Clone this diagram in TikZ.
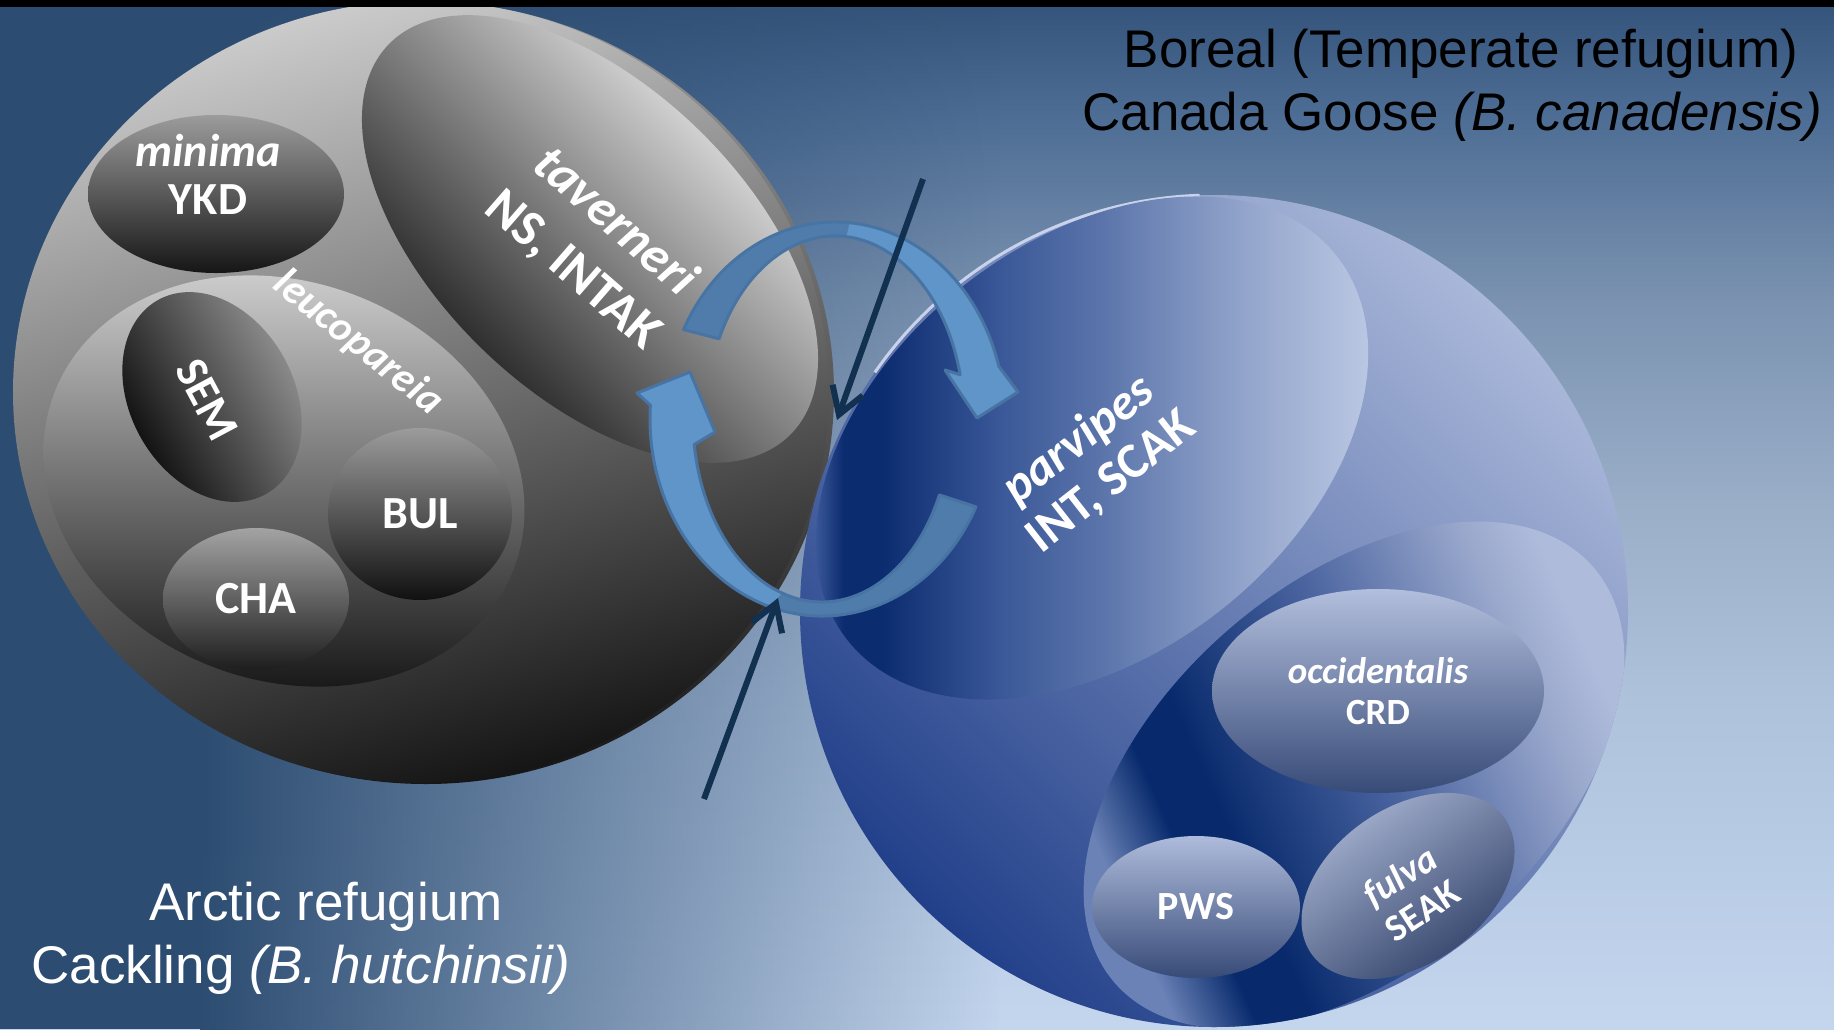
\documentclass[tikz,border=0pt]{standalone}
\usepackage{fontspec}
\setmainfont{Liberation Sans}
\newfontfamily\calfont{Carlito}
\usetikzlibrary{shapes.geometric,arrows.meta,fadings}

\definecolor{sky0}{HTML}{33537A}
\definecolor{sky1}{HTML}{4A6A92}
\definecolor{sky2}{HTML}{7A92B0}
\definecolor{sky3}{HTML}{9AAEC8}
\definecolor{sky4}{HTML}{AEC2DC}
\definecolor{sky5}{HTML}{C4D6EE}
\definecolor{bgdark}{HTML}{2C4C71}
\definecolor{greyhi}{HTML}{CBCBCB}
\definecolor{greymid}{HTML}{8C8C8C}
\definecolor{greylo}{HTML}{151515}
\definecolor{greyrim}{HTML}{9A9A9A}
\definecolor{blhi}{HTML}{A9B7D9}
\definecolor{blmid}{HTML}{5670AA}
\definecolor{bllo}{HTML}{22408A}
\definecolor{pvedge}{HTML}{3A5898}
\definecolor{pvnavy}{HTML}{0C2C70}
\definecolor{pvmid}{HTML}{5A74AA}
\definecolor{pvpale}{HTML}{94A6CC}
\definecolor{pvlight}{HTML}{BAC7E3}
\definecolor{wlight}{HTML}{AEBBDB}
\definecolor{wpale}{HTML}{9AA8CC}
\definecolor{wmid}{HTML}{4A64A0}
\definecolor{wnavy}{HTML}{082A6C}
\definecolor{wedge}{HTML}{6A82B6}
\definecolor{rimblue}{HTML}{C8D2EA}
\definecolor{cycdark}{HTML}{4F7CAA}
\definecolor{cyclight}{HTML}{5F95C8}
\definecolor{cycedge}{HTML}{4874A4}
\definecolor{migrline}{HTML}{12304F}

\pgfdeclareverticalshading{skyshade}{100bp}{color(0bp)=(sky5); color(25bp)=(sky5); color(41bp)=(sky4); color(50.5bp)=(sky3); color(60.5bp)=(sky2); color(70bp)=(sky1); color(75bp)=(sky0); color(100bp)=(sky0)}
\pgfdeclareverticalshading{parvshade}{100bp}{color(0bp)=(pvedge); color(25bp)=(pvedge); color(27.5bp)=(pvnavy); color(31bp)=(pvnavy); color(41.7bp)=(pvedge); color(50.7bp)=(pvmid); color(64.3bp)=(pvpale); color(75bp)=(pvlight); color(100bp)=(pvlight)}
\pgfdeclareverticalshading{pacshade}{100bp}{color(0bp)=(wedge); color(25bp)=(wedge); color(32bp)=(wnavy); color(37bp)=(wnavy); color(53bp)=(wmid); color(69bp)=(wpale); color(75bp)=(wlight); color(100bp)=(wlight)}

% rotated oval: centre x, centre y, half axes, turn
\newcommand{\ovalpath}[5]{plot[domain=0:356, samples=90, smooth cycle, variable=\t]
  ({#1+#3*cos(\t)*cos(#5)-#4*sin(\t)*sin(#5)}, {#2-#3*cos(\t)*sin(#5)-#4*sin(\t)*cos(#5)})}

\tikzset{
  bubble/.style={ellipse, draw=none, inner sep=0pt},
  lbl/.style={text=white, align=center, font=\calfont\bfseries\fontsize{46}{48}\selectfont},
  headtext/.style={font=\fontsize{53}{63}\selectfont},
  arrdark/.style={fill=cycdark},
  arrlight/.style={fill=cyclight},
  arredge/.style={draw=cycedge, line width=3pt, line join=round},
  migr/.style={draw=migrline, line width=6pt, -{Straight Barb[length=26pt,width=32pt]}}
}

\begin{document}
\begin{tikzpicture}[x=1pt,y=-1pt]
\useasboundingbox (0,0) rectangle (1834,1029);
% background
\shade[shading=skyshade] (0,0) rectangle (1834,1029);
\fill[bgdark] (0,0) rectangle (200,1029);
\fill[bgdark, path fading=east] (200,0) rectangle (1000,1029);

% arctic refugium
\node[bubble, top color=greyrim, bottom color=greylo, minimum width=816pt, minimum height=782pt] (arcticrim) at (426,393) {};
\node[bubble, top color=greyhi, middle color=greymid, bottom color=greylo, shading angle=15, minimum width=816pt, minimum height=782pt] (arctic) at (421,392) {};
\shade[top color=greyhi, middle color=gray!55!black, bottom color=gray!20!black] \ovalpath{284}{481}{246}{199}{-21};
\begin{scope}
  \clip (arctic.center) ellipse [x radius=408, y radius=391];
  \shade[top color=white!92!gray, middle color=gray!65!black, bottom color=gray!8!black, shading angle=-45] \ovalpath{590}{239}{280}{154}{-44};
\end{scope}
\node[lbl, font=\calfont\bfseries\fontsize{52}{64}\selectfont, rotate=-41] (tavtext) at (594,246) {\textit{taverneri}\\NS, INTAK};
\node[bubble, top color=gray!78, bottom color=gray!17!black, minimum width=256pt, minimum height=158pt] (ykd) at (216,194) {};
\node[lbl] (ykdtext) at ([shift={(-8,-20)}]ykd.center) {\textit{minima}\\YKD};
\node[lbl, font=\calfont\bfseries\itshape\fontsize{42}{48}\selectfont, rotate=-39] (leucotext) at (358,343) {leucopareia};
\shade[top color=gray!85, bottom color=gray!8!black, shading angle=-60] \ovalpath{212}{397}{111}{82}{-61};
\node[lbl, rotate=-62] (semtext) at (207,400) {SEM};
\node[bubble, lbl, top color=gray!78, bottom color=gray!13!black, minimum width=184pt, minimum height=172pt] (bul) at (420,514) {BUL};
\node[bubble, lbl, top color=gray!72, bottom color=gray!23!black, minimum width=186pt, minimum height=142pt] (cha) at (256,599) {CHA};

% boreal refugium
\node[bubble, top color=blhi, middle color=blmid, bottom color=bllo, shading angle=-45, minimum width=828pt, minimum height=832pt] (boreal) at (1214,611) {};
\draw[rimblue, line width=3pt] ([shift={(215:414 and 416)}]boreal.center) arc[start angle=215, end angle=268, x radius=414, y radius=416];
\begin{scope}
  \clip (boreal.center) ellipse [x radius=414, y radius=416];
  \shade[shading=parvshade, shading angle=-90] \ovalpath{1092}{448}{311}{207}{38};
  \shade[shading=pacshade, shading angle=-66] \ovalpath{1354}{775}{317}{192}{41};
\end{scope}
\node[lbl, font=\calfont\bfseries\fontsize{50}{53}\selectfont, rotate=38] (parvtext) at (1095,461) {\textit{parvipes}\\INT, SCAK};
\node[bubble, lbl, font=\calfont\bfseries\fontsize{37}{41}\selectfont, top color=wlight!95!white, bottom color=wmid!75!black, minimum width=332pt, minimum height=204pt] (crd) at (1378,691) {\textit{occidentalis}\\CRD};
\node[bubble, lbl, font=\calfont\bfseries\fontsize{40}{44}\selectfont, top color=wlight, bottom color=wmid!75!black, minimum width=208pt, minimum height=142pt] (pws) at (1196,907) {PWS};
\shade[top color=wlight!95!black, bottom color=wmid!65!black, shading angle=35] \ovalpath{1408}{886}{118}{78}{35};
\node[lbl, font=\calfont\bfseries\fontsize{38}{41}\selectfont, rotate=33] (seaktext) at (1411,893) {\textit{fulva}\\SEAK};

% exchange arrows
\coordinate (upring) at (835,419);
\coordinate (loring) at (822,419);
\coordinate (upbarbo) at (1018,392);
\coordinate (uptip) at (977,418);
\coordinate (upbarbi) at (945,370);
\coordinate (lobarbo) at (637,393);
\coordinate (lotip) at (690,372);
\coordinate (lobarbi) at (715,432);

\fill[arrdark] ([shift={(-153:170 and 197)}]upring) arc[start angle=-153, end angle=-85, x radius=170, y radius=197]
  -- ([shift={(-85:129 and 183)}]upring) arc[start angle=-85, end angle=-154, x radius=129, y radius=183] -- cycle;
\fill[arrlight] ([shift={(-85:170 and 197)}]upring) arc[start angle=-85, end angle=-15.5, x radius=170, y radius=197]
  -- (upbarbo) -- (uptip) -- (upbarbi) -- ([shift={(-14:129 and 183)}]upring)
  arc[start angle=-14, end angle=-85, x radius=129, y radius=183] -- cycle;
\draw[arredge] ([shift={(-153:170 and 197)}]upring) arc[start angle=-153, end angle=-15.5, x radius=170, y radius=197]
  -- (upbarbo) -- (uptip) -- (upbarbi) -- ([shift={(-14:129 and 183)}]upring)
  arc[start angle=-14, end angle=-154, x radius=129, y radius=183] -- cycle;

\fill[arrdark] ([shift={(26.5:172 and 197)}]loring) arc[start angle=26.5, end angle=108, x radius=172, y radius=197]
  -- ([shift={(108:129 and 183)}]loring) arc[start angle=108, end angle=24.5, x radius=129, y radius=183] -- cycle;
\fill[arrlight] ([shift={(108:172 and 197)}]loring) arc[start angle=108, end angle=184, x radius=172, y radius=197]
  -- (lobarbo) -- (lotip) -- (lobarbi) -- ([shift={(172:129 and 183)}]loring)
  arc[start angle=172, end angle=108, x radius=129, y radius=183] -- cycle;
\draw[arredge] ([shift={(26.5:172 and 197)}]loring) arc[start angle=26.5, end angle=184, x radius=172, y radius=197]
  -- (lobarbo) -- (lotip) -- (lobarbi) -- ([shift={(172:129 and 183)}]loring)
  arc[start angle=172, end angle=24.5, x radius=129, y radius=183] -- cycle;

% migration arrows
\coordinate (nfrom) at (923,179);
\coordinate (nto) at (837,420);
\coordinate (sfrom) at (704,799);
\coordinate (sto) at (778,598);
\draw[migr] (nfrom) -- (nto);
\draw[migr] (sfrom) -- (sto);

% titles
\node[headtext, anchor=base] (borealhead) at (1461,67) {Boreal (Temperate refugium)};
\node[headtext, anchor=base] (borealsp) at (1452,130) {Canada Goose \textit{(B. canadensis)}};
\node[headtext, text=white, anchor=base] (arctichead) at (326,920) {Arctic refugium};
\node[headtext, text=white, anchor=base] (arcticsp) at (301,983) {Cackling \textit{(B. hutchinsii)}};

\fill[black] (0,0) rectangle (1834,7);
\end{tikzpicture}
\end{document}
